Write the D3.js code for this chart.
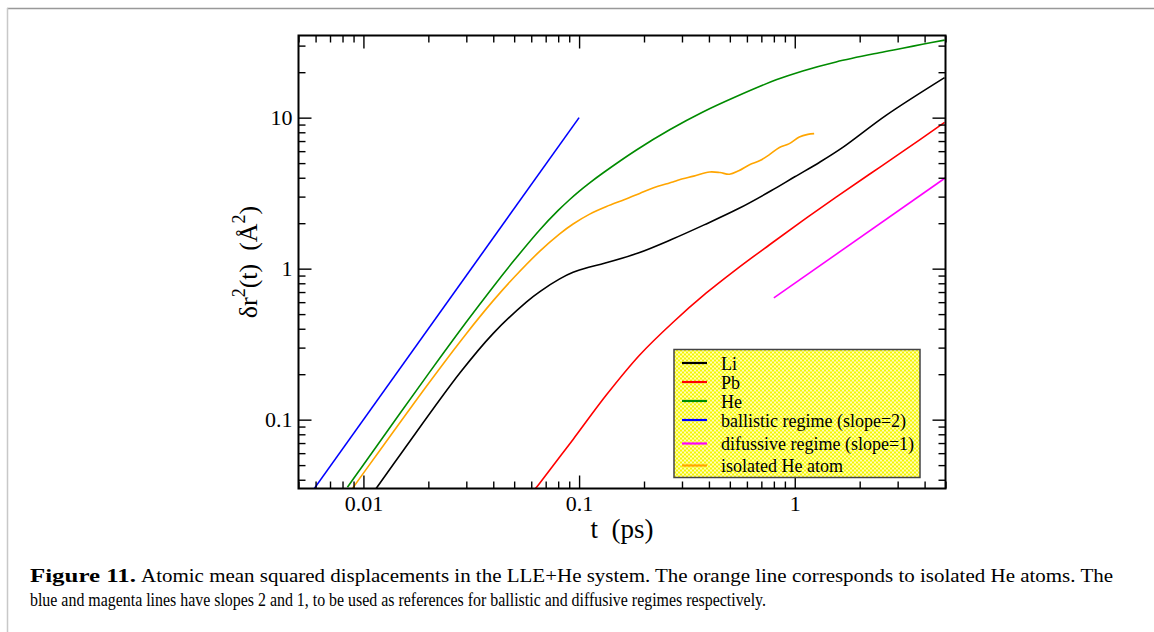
<!DOCTYPE html>
<html>
<head>
<meta charset="utf-8">
<script src="https://cdn.jsdelivr.net/npm/d3@7"></script>
<style>
  body { margin: 0; background: #fff; }
  svg { display: block; font-family: "Liberation Serif", "Times New Roman", serif; }
</style>
</head>
<body>
<svg id="chart" width="1154" height="632"></svg>
<script>
// Values (t in ps, msd in Å^2)
const liT = [0.01145, 0.0153, 0.0281, 0.04, 0.0571, 0.0658, 0.0813, 0.0938, 0.112, 0.131, 0.188, 0.268, 0.38, 0.546, 0.78, 1.0, 1.3, 1.67, 2.65, 4.95];
const liY = [0.035, 0.0625, 0.205, 0.373, 0.603, 0.705, 0.855, 0.945, 1.025, 1.085, 1.27, 1.56, 1.95, 2.49, 3.29, 4.06, 5.05, 6.35, 10.35, 18.4];

const pbT = [0.0628, 0.0658, 0.0938, 0.134, 0.191, 0.272, 0.389, 0.536, 0.764, 1.089, 1.555, 2.22, 3.16, 4.95];
const pbY = [0.035, 0.0381, 0.074, 0.146, 0.268, 0.44, 0.69, 0.99, 1.44, 2.08, 2.98, 4.22, 5.95, 9.3];

const heT = [0.00843, 0.00965, 0.02, 0.03, 0.04, 0.05, 0.0658, 0.08, 0.09, 0.1, 0.112, 0.129, 0.1845, 0.263, 0.375, 0.536, 0.82, 1.089, 1.555, 2.466, 3.16, 3.91, 4.95];
const heY = [0.0357, 0.0468, 0.201, 0.443, 0.76, 1.135, 1.81, 2.43, 2.85, 3.25, 3.7, 4.3, 6.11, 8.31, 10.9, 13.8, 17.8, 20.4, 23.4, 26.9, 28.8, 30.6, 32.6];

const ballisticT = [0.0059, 0.1];
const ballisticY = [0.0348, 10];

const diffusiveT = [0.8, 5];
const diffusiveY = [0.64, 4];

const isoT = [0.00889, 0.00965, 0.02, 0.03, 0.04, 0.05, 0.0658, 0.0813, 0.0938, 0.112, 0.134, 0.1627, 0.191, 0.22, 0.272, 0.292, 0.34, 0.403, 0.45, 0.498, 0.55, 0.617, 0.69, 0.763, 0.849, 0.944, 1.05, 1.15, 1.23];
const isoY = [0.035, 0.0412, 0.173, 0.371, 0.614, 0.877, 1.306, 1.7, 1.976, 2.298, 2.58, 2.87, 3.15, 3.42, 3.75, 3.88, 4.1, 4.37, 4.33, 4.22, 4.45, 4.88, 5.2, 5.69, 6.35, 6.73, 7.45, 7.75, 7.84];

const seriesNames = ["Li", "Pb", "He", "ballistic regime (slope=2)", "difussive regime (slope=1)", "isolated He atom"];
const seriesColors = ["#000000", "#ff0000", "#008b00", "#0000ff", "#ff00ff", "#ffa500"];

const xTicks = [0.01, 0.1, 1];
const xTickLabels = ["0.01", "0.1", "1"];
const yTicks = [0.1, 1, 10];
const yTickLabels = ["0.1", "1", "10"];

const captionBold = "Figure 11.";
const captionLine1 = "Atomic mean squared displacements in the LLE+He system. The orange line corresponds to isolated He atoms. The";
const captionLine2 = "blue and magenta lines have slopes 2 and 1, to be used as references for ballistic and diffusive regimes respectively.";

const svg = d3.select("#chart");

// page frame
svg.append("line").attr("x1", 7).attr("x2", 1154).attr("y1", 8.5).attr("y2", 8.5)
    .attr("stroke", "#999").attr("stroke-width", 1.5);
svg.append("line").attr("x1", 7.5).attr("x2", 7.5).attr("y1", 8).attr("y2", 632)
    .attr("stroke", "#c8c8c8").attr("stroke-width", 1.5);

const margin = { top: 35.5, left: 298.5 };
const width = 647;
const height = 453;

const g = svg.append("g").attr("transform", `translate(${margin.left}, ${margin.top})`);

const xScale = d3.scaleLog().domain([0.005, 5]).range([0, width]);
const yScale = d3.scaleLog().domain([0.035, 35]).range([height, 0]);

function minorTicks(lo, hi) {
    const out = [];
    for (let d = lo; d < hi; d *= 10) {
        for (let k = 1; k <= 9; k++) {
            out.push(+(k * d).toPrecision(3));
        }
    }
    return out;
}
const xMinor = minorTicks(0.001, 10).filter(v => v >= 0.005 && v <= 5 && !xTicks.includes(v));
const yMinor = minorTicks(0.01, 100).filter(v => v >= 0.035 && v <= 35 && !yTicks.includes(v));

// curves
g.append("clipPath").attr("id", "clip").append("rect").attr("width", width).attr("height", height);

const line = d3.line()
    .x(d => xScale(d[0]))
    .y(d => yScale(d[1]))
    .curve(d3.curveCatmullRom.alpha(0.5));

const seriesData = [
    d3.zip(liT, liY),
    d3.zip(pbT, pbY),
    d3.zip(heT, heY),
    d3.zip(ballisticT, ballisticY),
    d3.zip(diffusiveT, diffusiveY),
    d3.zip(isoT, isoY)
];
const drawOrder = [2, 0, 1, 3, 4, 5];

g.append("g").attr("clip-path", "url(#clip)")
    .selectAll("path")
    .data(drawOrder)
    .enter()
    .append("path")
    .attr("d", i => line(seriesData[i]))
    .attr("fill", "none")
    .attr("stroke", i => seriesColors[i])
    .attr("stroke-width", 1.6);

// axes (ticks pointing inward)
function styleAxis(sel) {
    sel.select(".domain").remove();
    sel.selectAll(".tick line").attr("stroke", "#000").attr("stroke-width", 1.4);
    sel.selectAll(".tick text").attr("fill", "#000").style("font-size", "22px")
        .style("font-family", "'Liberation Serif', 'Times New Roman', serif");
}

g.append("g").attr("transform", `translate(0, ${height})`)
    .call(d3.axisBottom(xScale).tickValues(xTicks).tickSize(-13).tickPadding(7)
        .tickFormat((d, i) => xTickLabels[i]))
    .call(styleAxis);
g.append("g").attr("transform", `translate(0, ${height})`)
    .call(d3.axisBottom(xScale).tickValues(xMinor).tickSize(-7).tickFormat(""))
    .call(styleAxis);
g.append("g")
    .call(d3.axisTop(xScale).tickValues(xTicks).tickSize(-13).tickFormat(""))
    .call(styleAxis);
g.append("g")
    .call(d3.axisTop(xScale).tickValues(xMinor).tickSize(-7).tickFormat(""))
    .call(styleAxis);

g.append("g")
    .call(d3.axisLeft(yScale).tickValues(yTicks).tickSize(-13).tickPadding(6)
        .tickFormat((d, i) => yTickLabels[i]))
    .call(styleAxis);
g.append("g")
    .call(d3.axisLeft(yScale).tickValues(yMinor).tickSize(-7).tickFormat(""))
    .call(styleAxis);
g.append("g").attr("transform", `translate(${width}, 0)`)
    .call(d3.axisRight(yScale).tickValues(yTicks).tickSize(-13).tickFormat(""))
    .call(styleAxis);
g.append("g").attr("transform", `translate(${width}, 0)`)
    .call(d3.axisRight(yScale).tickValues(yMinor).tickSize(-7).tickFormat(""))
    .call(styleAxis);

g.append("rect").attr("width", width).attr("height", height)
    .attr("fill", "none").attr("stroke", "#000").attr("stroke-width", 2);

// axis titles
g.append("text")
    .attr("x", width / 2)
    .attr("y", height + 49)
    .attr("text-anchor", "middle")
    .style("font-size", "27px")
    .text("t\u00a0\u00a0(ps)");

const yTitle = g.append("text")
    .attr("transform", `translate(${-42}, ${height / 2}) rotate(-90)`)
    .attr("text-anchor", "middle")
    .style("font-size", "26px");
yTitle.append("tspan").text("δr");
yTitle.append("tspan").attr("dy", -12).style("font-size", "18px").text("2");
yTitle.append("tspan").attr("dy", 12).text("(t)\u00a0\u00a0(Å");
yTitle.append("tspan").attr("dy", -12).style("font-size", "18px").text("2");
yTitle.append("tspan").attr("dy", 12).text(")");

// legend
const defs = svg.append("defs");
const pat = defs.append("pattern").attr("id", "checker")
    .attr("width", 4).attr("height", 4).attr("patternUnits", "userSpaceOnUse");
pat.append("rect").attr("width", 4).attr("height", 4).attr("fill", "#f4f400");
pat.append("rect").attr("width", 2).attr("height", 2).attr("fill", "#ffffb8");
pat.append("rect").attr("x", 2).attr("y", 2).attr("width", 2).attr("height", 2).attr("fill", "#ffffb8");

const legend = svg.append("g").attr("transform", "translate(674, 349.5)");
legend.append("rect").attr("width", 246).attr("height", 128)
    .attr("fill", "url(#checker)").attr("stroke", "#444").attr("stroke-width", 1.5);

const rowY = [13.5, 32.5, 51.5, 70.5, 94, 116];
const rows = legend.selectAll("g.row")
    .data(seriesNames)
    .enter()
    .append("g")
    .attr("class", "row")
    .attr("transform", (d, i) => `translate(0, ${rowY[i]})`);
rows.append("line")
    .attr("x1", 8).attr("x2", 33)
    .attr("stroke", (d, i) => seriesColors[i])
    .attr("stroke-width", 2.2);
rows.append("text")
    .attr("x", 47)
    .attr("y", 6.5)
    .style("font-size", "18px")
    .text(d => d);

// caption
svg.append("text")
    .attr("x", 30).attr("y", 582)
    .style("font-size", "19px").style("font-weight", "bold")
    .attr("textLength", 106).attr("lengthAdjust", "spacingAndGlyphs")
    .text(captionBold);
svg.append("text")
    .attr("x", 141).attr("y", 582)
    .style("font-size", "19px")
    .attr("textLength", 972).attr("lengthAdjust", "spacingAndGlyphs")
    .text(captionLine1);
svg.append("text")
    .attr("x", 30).attr("y", 606)
    .style("font-size", "19px")
    .attr("textLength", 736).attr("lengthAdjust", "spacingAndGlyphs")
    .text(captionLine2);
</script>
</body>
</html>
